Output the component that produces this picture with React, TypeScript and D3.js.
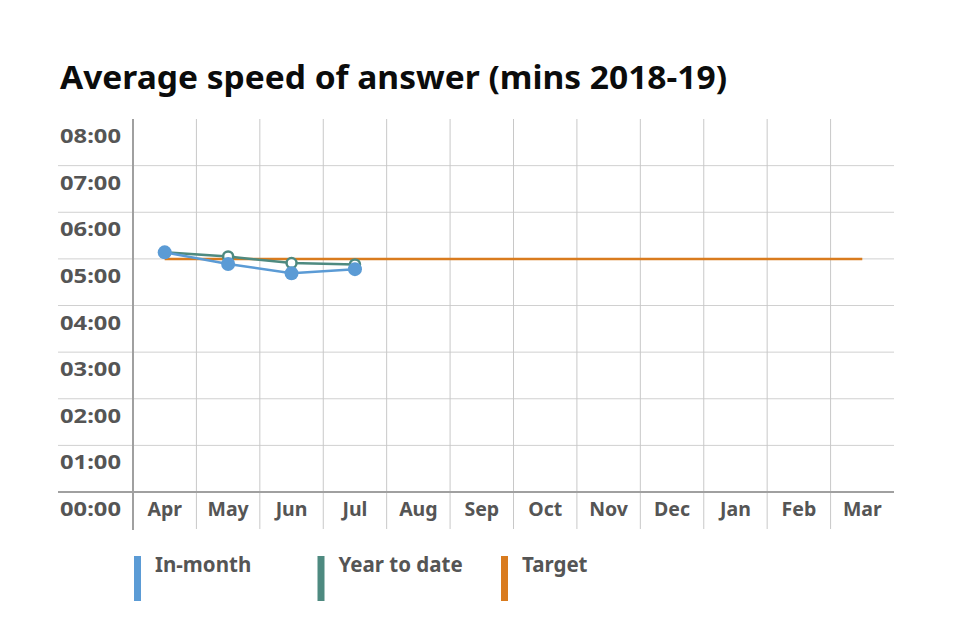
import React from "react";
import * as d3 from "d3";

const title = "Average speed of answer (mins 2018-19)";
const months = ["Apr", "May", "Jun", "Jul", "Aug", "Sep", "Oct", "Nov", "Dec", "Jan", "Feb", "Mar"];
const yTicks = [0, 1, 2, 3, 4, 5, 6, 7, 8];
const yTickLabels = ["00:00", "01:00", "02:00", "03:00", "04:00", "05:00", "06:00", "07:00", "08:00"];
// values in minutes
const inMonth = [5.14, 4.89, 4.69, 4.78];
const yearToDate = [5.14, 5.05, 4.91, 4.88];
const target = [5, 5, 5, 5, 5, 5, 5, 5, 5, 5, 5, 5];
const seriesNames = ["In-month", "Year to date", "Target"];
const seriesColors = ["#5B9BD5", "#4E8A80", "#D97B1E"];

export default function App() {
  const W = 960, H = 640;
  const left = 133, right = 894, top = 119, bottom = 492;
  const x = d3.scaleBand<string>().domain(months).range([left, right]).padding(0);
  const y = d3.scaleLinear().domain([0, 8]).range([bottom, top]);
  const cx = (i: number) => (x(months[i]) as number) + x.bandwidth() / 2;
  const line = d3.line<number>().x((_, i) => cx(i)).y((d) => y(d));
  const font = "'Noto Sans', sans-serif";
  const gray = "#555";

  return (
    <svg width={W} height={H} style={{ position: "absolute", left: 0, top: 0, background: "#fff" }}>
      <text x={60} y={89} fontFamily={font} fontWeight="bold" fontSize={32} fill="#0b0c0c" textLength={667} lengthAdjust="spacingAndGlyphs">
        {title}
      </text>
      {/* horizontal gridlines */}
      {yTicks.slice(1, 8).map((t) => (
        <line key={t} x1={58} x2={right} y1={y(t)} y2={y(t)} stroke="#d0d0d0" strokeWidth={1} />
      ))}
      {/* vertical category separators */}
      {months.slice(1).map((m) => (
        <line key={m} x1={x(m) as number} x2={x(m) as number} y1={top} y2={529} stroke="#c8c8c8" strokeWidth={1} />
      ))}
      {/* axes */}
      <line x1={58} x2={right} y1={bottom} y2={bottom} stroke="#a0a0a0" strokeWidth={2} />
      <line x1={left} x2={left} y1={top} y2={530} stroke="#a0a0a0" strokeWidth={2} />
      {/* y labels */}
      {yTicks.map((t, i) => (
        <text key={t} x={121} y={y(t) + 24} textAnchor="end" fontFamily={font} fontWeight="bold" fontSize={20} fill={gray} textLength={61} lengthAdjust="spacingAndGlyphs">
          {yTickLabels[i]}
        </text>
      ))}
      {/* x labels */}
      {months.map((m, i) => (
        <text key={m} x={cx(i)} y={516} textAnchor="middle" fontFamily={font} fontWeight="bold" fontSize={19.5} fill={gray}>
          {m}
        </text>
      ))}
      {/* series */}
      <path d={line(target) as string} fill="none" stroke={seriesColors[2]} strokeWidth={2.5} />
      <path d={line(yearToDate) as string} fill="none" stroke={seriesColors[1]} strokeWidth={2.5} />
      {yearToDate.map((v, i) => (
        <circle key={i} cx={cx(i)} cy={y(v)} r={5} fill="#fff" stroke={seriesColors[1]} strokeWidth={2.5} />
      ))}
      <path d={line(inMonth) as string} fill="none" stroke={seriesColors[0]} strokeWidth={2.5} />
      {inMonth.map((v, i) => (
        <circle key={i} cx={cx(i)} cy={y(v)} r={7} fill={seriesColors[0]} />
      ))}
      {/* legend */}
      {seriesNames.map((n, i) => {
        const lx = 134 + i * 183.5;
        return (
          <g key={n}>
            <rect x={lx} y={556} width={7} height={45} fill={seriesColors[i]} />
            <text x={lx + 21} y={572} fontFamily={font} fontWeight="bold" fontSize={20.5} fill={gray}>
              {n}
            </text>
          </g>
        );
      })}
    </svg>
  );
}
